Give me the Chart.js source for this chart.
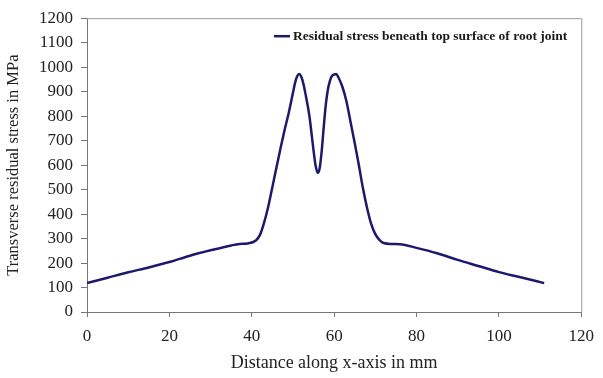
<!DOCTYPE html>
<html>
<head>
<meta charset="utf-8">
<script src="https://cdn.jsdelivr.net/npm/chart.js@4.4.1/dist/chart.umd.min.js"></script>
<style>
  html, body { margin: 0; padding: 0; background: #fff; }
  #wrap { width: 603px; height: 378px; }
</style>
</head>
<body>
<div id="wrap"><canvas id="stressChart"></canvas></div>
<script>
// distance along x-axis (mm) and transverse residual stress (MPa)
const distance = [0, 5, 10, 15, 20, 25, 30, 35, 37, 39, 41, 42, 43, 44, 45, 46, 47, 48, 49, 50, 50.5, 51, 51.5, 52, 52.5, 53, 54, 55, 55.5, 56, 56.5, 57, 57.5, 58, 58.5, 59, 59.5, 60, 60.5, 61, 62, 63, 64, 65, 66, 67, 68, 69, 70, 71, 72, 74, 76, 80, 85, 90, 95, 100, 105, 111];
const stress = [118, 140, 162, 182, 204, 230, 252, 272, 278, 280, 292, 315, 365, 430, 510, 590, 670, 745, 815, 895, 935, 962, 972, 962, 935, 895, 800, 660, 598, 568, 588, 660, 760, 850, 910, 945, 965, 970, 972, 960, 920, 860, 775, 690, 600, 505, 425, 360, 318, 295, 282, 278, 277, 262, 240, 213, 188, 163, 143, 118];
const seriesLabel = 'Residual stress beneath top surface of root joint';
const xTitle = 'Distance along x-axis in mm';
const yTitle = 'Transverse residual stress in MPa';

const points = distance.map((d, i) => ({ x: d, y: stress[i] }));
const lineColor = '#1c1a6b';
const serif = 'Liberation Serif, "Times New Roman", serif';

// grey frame on the top and right side of the plot area, plus the inset legend
const frame = {
  id: 'frame',
  afterDraw(chart) {
    const a = chart.chartArea;
    const c = chart.ctx;
    c.save();
    c.strokeStyle = '#9a9a9a';
    c.lineWidth = 1;
    c.beginPath();
    c.moveTo(a.left, a.top + 0.5);
    c.lineTo(a.right + 0.5, a.top + 0.5);
    c.lineTo(a.right + 0.5, a.bottom);
    c.stroke();

    const lx = a.left + 187;
    const ly = a.top + 18;
    c.strokeStyle = lineColor;
    c.lineWidth = 2.5;
    c.beginPath();
    c.moveTo(lx, ly);
    c.lineTo(lx + 16, ly);
    c.stroke();
    c.fillStyle = '#1a1a1a';
    c.font = 'bold 13.5px ' + serif;
    c.textBaseline = 'middle';
    c.fillText(seriesLabel, lx + 19, ly);
    c.restore();
  }
};

new Chart(document.getElementById('stressChart'), {
  type: 'line',
  data: {
    datasets: [{
      label: seriesLabel,
      data: points,
      borderColor: lineColor,
      backgroundColor: lineColor,
      borderWidth: 2.5,
      pointRadius: 0,
      cubicInterpolationMode: 'monotone'
    }]
  },
  options: {
    responsive: true,
    maintainAspectRatio: false,
    animation: false,
    layout: { padding: { left: 0, right: 13, top: 15, bottom: 0 } },
    plugins: {
      legend: { display: false },
      tooltip: { enabled: false }
    },
    scales: {
      x: {
        type: 'linear',
        min: 0,
        max: 120,
        ticks: { stepSize: 20, font: { family: serif, size: 17 }, color: '#222', padding: 9, callback: v => String(v) },
        grid: { drawOnChartArea: false, drawTicks: true, tickLength: 5, color: '#777' },
        border: { color: '#777' },
        title: { display: true, text: xTitle, font: { family: serif, size: 18 }, color: '#222', padding: { top: 0 } },
        afterFit(scale) { scale.height = 66; }
      },
      y: {
        min: 0,
        max: 1200,
        ticks: { stepSize: 100, font: { family: serif, size: 17 }, color: '#222', padding: 8, callback: v => String(v) },
        grid: { drawOnChartArea: false, drawTicks: true, tickLength: 6, color: '#777' },
        border: { color: '#777' },
        title: { display: true, text: yTitle, font: { family: serif, size: 16.5 }, color: '#222', padding: { bottom: 4 } },
        afterFit(scale) { scale.width = 87; }
      }
    }
  },
  plugins: [frame]
});
</script>
</body>
</html>
